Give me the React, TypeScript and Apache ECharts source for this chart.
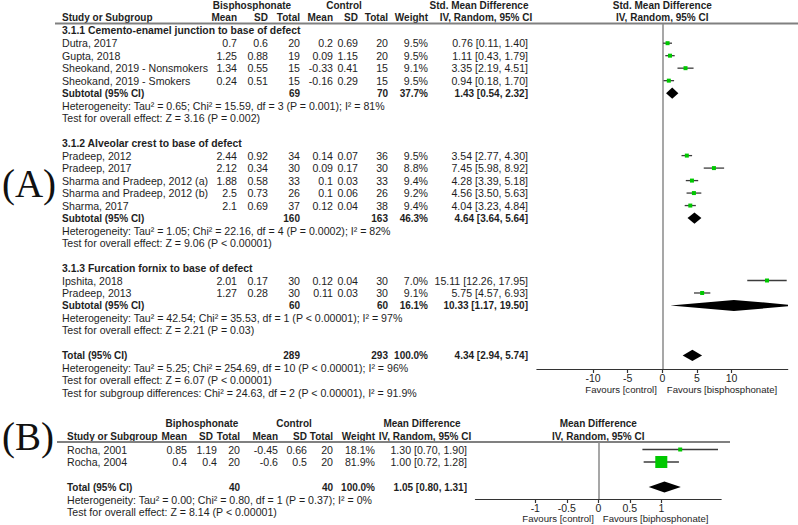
import React, { useEffect, useRef } from "react";
import * as echarts from "echarts";

// ---------------- Panel A data ----------------
const subgroupTitlesA = [
  "3.1.1 Cemento-enamel junction to base of defect",
  "3.1.2 Alveolar crest to base of defect",
  "3.1.3 Furcation fornix to base of defect",
];
const studyNamesA = [
  "Dutra, 2017",
  "Gupta, 2018",
  "Sheokand, 2019 - Nonsmokers",
  "Sheokand, 2019 - Smokers",
  "Pradeep, 2012",
  "Pradeep, 2017",
  "Sharma and Pradeep, 2012 (a)",
  "Sharma and Pradeep, 2012 (b)",
  "Sharma, 2017",
  "Ipshita, 2018",
  "Pradeep, 2013",
];
const studyGroupA = [0, 0, 0, 0, 1, 1, 1, 1, 1, 2, 2];
const expMeanA = [0.7, 1.25, 1.34, 0.24, 2.44, 2.12, 1.88, 2.5, 2.1, 2.01, 1.27];
const expSdA = [0.6, 0.88, 0.55, 0.51, 0.92, 0.34, 0.58, 0.73, 0.69, 0.17, 0.28];
const expTotalA = [20, 19, 15, 15, 34, 30, 33, 26, 37, 30, 30];
const ctrlMeanA = [0.2, 0.09, -0.33, -0.16, 0.14, 0.09, 0.1, 0.1, 0.12, 0.12, 0.11];
const ctrlSdA = [0.69, 1.15, 0.41, 0.29, 0.07, 0.17, 0.03, 0.06, 0.04, 0.04, 0.03];
const ctrlTotalA = [20, 20, 15, 15, 36, 30, 33, 26, 38, 30, 30];
const weightA = [9.5, 9.5, 9.1, 9.5, 9.5, 8.8, 9.4, 9.2, 9.4, 7.0, 9.1];
const estA = [0.76, 1.11, 3.35, 0.94, 3.54, 7.45, 4.28, 4.56, 4.04, 15.11, 5.75];
const loA = [0.11, 0.43, 2.19, 0.18, 2.77, 5.98, 3.39, 3.5, 3.23, 12.26, 4.57];
const hiA = [1.4, 1.79, 4.51, 1.7, 4.3, 8.92, 5.18, 5.63, 4.84, 17.95, 6.93];

const subExpTotalA = [69, 160, 60];
const subCtrlTotalA = [70, 163, 60];
const subWeightA = [37.7, 46.3, 16.1];
const subEstA = [1.43, 4.64, 10.33];
const subLoA = [0.54, 3.64, 1.17];
const subHiA = [2.32, 5.64, 19.5];
const subHetA = [
  "Heterogeneity: Tau\u00b2 = 0.65; Chi\u00b2 = 15.59, df = 3 (P = 0.001); I\u00b2 = 81%",
  "Heterogeneity: Tau\u00b2 = 1.05; Chi\u00b2 = 22.16, df = 4 (P = 0.0002); I\u00b2 = 82%",
  "Heterogeneity: Tau\u00b2 = 42.54; Chi\u00b2 = 35.53, df = 1 (P < 0.00001); I\u00b2 = 97%",
];
const subTestA = [
  "Test for overall effect: Z = 3.16 (P = 0.002)",
  "Test for overall effect: Z = 9.06 (P < 0.00001)",
  "Test for overall effect: Z = 2.21 (P = 0.03)",
];
const totalA = { exp: 289, ctrl: 293, weight: 100.0, est: 4.34, lo: 2.94, hi: 5.74 };
const totalTextA = [
  "Heterogeneity: Tau\u00b2 = 5.25; Chi\u00b2 = 254.69, df = 10 (P < 0.00001); I\u00b2 = 96%",
  "Test for overall effect: Z = 6.07 (P < 0.00001)",
  "Test for subgroup differences: Chi\u00b2 = 24.63, df = 2 (P < 0.00001), I\u00b2 = 91.9%",
];
const ticksA = [-10, -5, 0, 5, 10];

// ---------------- Panel B data ----------------
const studyNamesB = ["Rocha, 2001", "Rocha, 2004"];
const expMeanB = [0.85, 0.4];
const expSdB = [1.19, 0.4];
const expTotalB = [20, 20];
const ctrlMeanB = [-0.45, -0.6];
const ctrlSdB = [0.66, 0.5];
const ctrlTotalB = [20, 20];
const weightB = [18.1, 81.9];
const estB = [1.3, 1.0];
const loB = [0.7, 0.72];
const hiB = [1.9, 1.28];
const totalB = { exp: 40, ctrl: 40, weight: 100.0, est: 1.05, lo: 0.8, hi: 1.31 };
const totalTextB = [
  "Heterogeneity: Tau\u00b2 = 0.00; Chi\u00b2 = 0.80, df = 1 (P = 0.37); I\u00b2 = 0%",
  "Test for overall effect: Z = 8.14 (P < 0.00001)",
];
const ticksB = [-1, -0.5, 0, 0.5, 1];

// ---------------- layout ----------------
const FONT = '"Liberation Sans", Arial, Helvetica, sans-serif';
const SERIF = '"Liberation Serif", "Times New Roman", serif';
const FS = 10.6;
const FSB = 10.0;
const TXT = "#1e1e1e";

const A = {
  nameX: 62,
  cols: [237, 268, 300, 333, 358, 388, 428, 528],
  heads: [237, 268, 300, 333, 358, 388, 428],
  row0: 30.7,
  rowH: 12.49,
  top: 24,
  axisY: 369,
  zeroX: 662.3,
  xMin: -18.1,
  xMax: 18.1,
  pxPerUnit: 6.93,
};
const B = {
  nameX: 67,
  cols: [187, 217, 240, 278, 307, 333, 375, 467],
  heads: [187, 213, 240, 278, 307, 333, 375],
  row0: 449.5,
  rowH: 12.5,
  top: 442,
  axisY: 499,
  zeroX: 598.3,
  xMin: -1.95,
  xMax: 1.95,
  pxPerUnit: 63,
};

function txt(
  text: string,
  x: number,
  y: number,
  align = "left",
  bold = false,
  size?: number,
  fill = TXT,
  family = FONT
) {
  return {
    type: "text",
    x,
    y,
    silent: true,
    style: {
      text,
      fill,
      fontSize: size ?? (bold ? FSB : FS),
      fontFamily: family,
      fontWeight: bold ? "bold" : "normal",
      align,
      textAlign: align,
      verticalAlign: "middle",
      textVerticalAlign: "middle",
    },
  };
}

const fmt2 = (v: number) => v.toFixed(2);
const ci = (e: number, l: number, h: number) => `${fmt2(e)} [${fmt2(l)}, ${fmt2(h)}]`;
const pct = (w: number) => `${w.toFixed(1)}%`;
const HEADS = ["Mean", "SD", "Total", "Mean", "SD", "Total", "Weight"];

function buildPanelA() {
  const g: any[] = [];
  const ciData: number[][] = [];
  const sqData: number[][] = [];
  const dmData: number[][] = [];
  const y = (r: number) => A.row0 + A.rowH * r;
  const c = A.cols;
  g.push(txt("Bisphosphonate", 252, 5.5, "center", true));
  g.push(txt("Control", 344, 5.5, "center", true));
  g.push(txt("Std. Mean Difference", 479, 5.5, "center", true));
  g.push(txt("Std. Mean Difference", A.zeroX, 5.5, "center", true));
  g.push(txt("Study or Subgroup", A.nameX, 17.5, "left", true));
  HEADS.forEach((h, i) => g.push(txt(h, A.heads[i], 17.5, "right", true)));
  g.push(txt("IV, Random, 95% CI", 486, 17.5, "center", true));
  g.push(txt("IV, Random, 95% CI", A.zeroX, 17.5, "center", true));
  g.push({
    type: "line",
    silent: true,
    shape: { x1: 55, y1: 23.5, x2: 798, y2: 23.5 },
    style: { stroke: "#808080", lineWidth: 2 },
  });

  let r = 0;
  subgroupTitlesA.forEach((title, gi) => {
    g.push(txt(title, A.nameX, y(r), "left", true, 10.4));
    r++;
    studyNamesA.forEach((name, si) => {
      if (studyGroupA[si] !== gi) return;
      const yy = y(r);
      g.push(txt(name, A.nameX, yy));
      const vals = [expMeanA[si], expSdA[si], expTotalA[si], ctrlMeanA[si], ctrlSdA[si], ctrlTotalA[si]];
      vals.forEach((v, k) => g.push(txt(String(v), c[k], yy, "right")));
      g.push(txt(pct(weightA[si]), c[6], yy, "right"));
      g.push(txt(ci(estA[si], loA[si], hiA[si]), c[7], yy, "right"));
      ciData.push([loA[si], hiA[si], r]);
      sqData.push([estA[si], r, weightA[si]]);
      r++;
    });
    const ys = y(r);
    g.push(txt("Subtotal (95% CI)", A.nameX, ys, "left", true));
    g.push(txt(String(subExpTotalA[gi]), c[2], ys, "right", true));
    g.push(txt(String(subCtrlTotalA[gi]), c[5], ys, "right", true));
    g.push(txt(pct(subWeightA[gi]), c[6], ys, "right", true));
    g.push(txt(ci(subEstA[gi], subLoA[gi], subHiA[gi]), c[7], ys, "right", true));
    dmData.push([subLoA[gi], subEstA[gi], subHiA[gi], r]);
    r++;
    g.push(txt(subHetA[gi], A.nameX, y(r)));
    r++;
    g.push(txt(subTestA[gi], A.nameX, y(r)));
    r++;
    r++;
  });
  const yt = y(r);
  g.push(txt("Total (95% CI)", A.nameX, yt, "left", true));
  g.push(txt(String(totalA.exp), c[2], yt, "right", true));
  g.push(txt(String(totalA.ctrl), c[5], yt, "right", true));
  g.push(txt(pct(totalA.weight), c[6], yt, "right", true));
  g.push(txt(ci(totalA.est, totalA.lo, totalA.hi), c[7], yt, "right", true));
  dmData.push([totalA.lo, totalA.est, totalA.hi, r]);
  r++;
  totalTextA.forEach((t) => {
    g.push(txt(t, A.nameX, y(r)));
    r++;
  });
  g.push(txt("Favours [control]", A.zeroX - 5.5, 389.5, "right", false, 9.6));
  g.push(txt("Favours [bisphosphonate]", A.zeroX + 4.5, 389.5, "left", false, 9.6));
  g.push(txt("(A)", 29, 183, "center", false, 39, "#111", SERIF));
  return { g, ciData, sqData, dmData };
}

function buildPanelB() {
  const g: any[] = [];
  const ciData: number[][] = [];
  const sqData: number[][] = [];
  const dmData: number[][] = [];
  const y = (r: number) => B.row0 + B.rowH * r;
  const c = B.cols;
  g.push(txt("Biphosphonate", 202, 423, "center", true));
  g.push(txt("Control", 294, 423, "center", true));
  g.push(txt("Mean Difference", 422, 423, "center", true));
  g.push(txt("Mean Difference", B.zeroX, 423, "center", true));
  g.push(txt("Study or Subgroup", B.nameX, 436, "left", true));
  HEADS.forEach((h, i) => g.push(txt(h, B.heads[i], 436, "right", true)));
  g.push(txt("IV, Random, 95% CI", 425, 436, "center", true));
  g.push(txt("IV, Random, 95% CI", B.zeroX, 436, "center", true));
  g.push({
    type: "line",
    silent: true,
    shape: { x1: 57, y1: 442, x2: 730, y2: 442 },
    style: { stroke: "#808080", lineWidth: 2 },
  });
  let r = 0;
  studyNamesB.forEach((name, si) => {
    const yy = y(r);
    g.push(txt(name, B.nameX, yy));
    const vals = [expMeanB[si], expSdB[si], expTotalB[si], ctrlMeanB[si], ctrlSdB[si], ctrlTotalB[si]];
    vals.forEach((v, k) => g.push(txt(String(v), c[k], yy, "right")));
    g.push(txt(pct(weightB[si]), c[6], yy, "right"));
    g.push(txt(ci(estB[si], loB[si], hiB[si]), c[7], yy, "right"));
    ciData.push([loB[si], hiB[si], r]);
    sqData.push([estB[si], r, weightB[si]]);
    r++;
  });
  r++;
  const yt = y(r);
  g.push(txt("Total (95% CI)", B.nameX, yt, "left", true));
  g.push(txt(String(totalB.exp), c[2], yt, "right", true));
  g.push(txt(String(totalB.ctrl), c[5], yt, "right", true));
  g.push(txt(pct(totalB.weight), c[6], yt, "right", true));
  g.push(txt(ci(totalB.est, totalB.lo, totalB.hi), c[7], yt, "right", true));
  dmData.push([totalB.lo, totalB.est, totalB.hi, r]);
  r++;
  totalTextB.forEach((t) => {
    g.push(txt(t, B.nameX, y(r)));
    r++;
  });
  g.push(txt("Favours [control]", B.zeroX - 4.5, 518.3, "right", false, 9.6));
  g.push(txt("Favours [biphosphonate]", B.zeroX + 4.5, 518.3, "left", false, 9.6));
  g.push(txt("(B)", 28, 436, "center", false, 39, "#111", SERIF));
  return { g, ciData, sqData, dmData };
}

function ciSeries(data: number[][], idx: number) {
  return {
    type: "custom",
    xAxisIndex: idx,
    yAxisIndex: idx,
    clip: true,
    silent: true,
    data,
    encode: { x: [0, 1], y: 2 },
    renderItem: (_p: any, api: any) => {
      const a = api.coord([api.value(0), api.value(2)]);
      const b = api.coord([api.value(1), api.value(2)]);
      return {
        type: "line",
        shape: { x1: a[0], y1: a[1], x2: b[0], y2: b[1] },
        style: { stroke: "#3c3c3c", lineWidth: 1.3 },
      };
    },
    z: 3,
  };
}

function diamondSeries(data: number[][], idx: number) {
  return {
    type: "custom",
    xAxisIndex: idx,
    yAxisIndex: idx,
    clip: true,
    silent: true,
    data,
    encode: { x: [0, 1, 2], y: 3 },
    renderItem: (_p: any, api: any) => {
      const l = api.coord([api.value(0), api.value(3)]);
      const m = api.coord([api.value(1), api.value(3)]);
      const h = api.coord([api.value(2), api.value(3)]);
      const hh = 5.6;
      return {
        type: "polygon",
        shape: {
          points: [
            [l[0], l[1]],
            [m[0], m[1] - hh],
            [h[0], h[1]],
            [m[0], m[1] + hh],
          ],
        },
        style: { fill: "#000" },
      };
    },
    z: 4,
  };
}

function squareSeries(data: number[][], idx: number) {
  return {
    type: "scatter",
    xAxisIndex: idx,
    yAxisIndex: idx,
    silent: true,
    symbol: "rect",
    symbolSize: (v: number[]) => Math.max(4, v[2] * 0.147),
    itemStyle: { color: "#00c800", opacity: 1 },
    data,
    z: 5,
    markLine: {
      silent: true,
      symbol: "none",
      label: { show: false },
      lineStyle: { color: "#8a8a8a", width: 1.5, type: "solid" },
      data: [{ xAxis: 0 }],
      z: 1,
    },
  };
}

function xAxisCfg(idx: number, P: any, ticks: number[]) {
  return {
    gridIndex: idx,
    type: "value",
    min: P.xMin,
    max: P.xMax,
    axisLine: { show: true, onZero: false, lineStyle: { color: "#333", width: 1.2 } },
    axisTick: { show: true, customValues: ticks, length: 4, inside: false, lineStyle: { color: "#333", width: 1.2 } },
    axisLabel: { customValues: ticks, fontSize: 10.5, color: TXT, margin: 3, fontFamily: FONT },
    splitLine: { show: false },
  };
}

function yAxisCfg(idx: number, P: any) {
  return {
    gridIndex: idx,
    type: "value",
    inverse: true,
    min: (P.top - P.row0) / P.rowH,
    max: (P.axisY - P.row0) / P.rowH,
    show: false,
  };
}

function gridCfg(P: any) {
  const left = P.zeroX + P.xMin * P.pxPerUnit;
  const width = (P.xMax - P.xMin) * P.pxPerUnit;
  return { left, top: P.top, width, height: P.axisY - P.top, containLabel: false };
}

export default function App() {
  const ref = useRef<HTMLDivElement>(null);
  useEffect(() => {
    if (!ref.current) return;
    const chart = echarts.init(ref.current, undefined, { renderer: "svg" });
    const pa = buildPanelA();
    const pb = buildPanelB();
    chart.setOption({
      animation: false,
      backgroundColor: "#ffffff",
      textStyle: { fontFamily: FONT },
      grid: [gridCfg(A), gridCfg(B)],
      xAxis: [xAxisCfg(0, A, ticksA), xAxisCfg(1, B, ticksB)],
      yAxis: [yAxisCfg(0, A), yAxisCfg(1, B)],
      series: [
        ciSeries(pa.ciData, 0),
        diamondSeries(pa.dmData, 0),
        squareSeries(pa.sqData, 0),
        ciSeries(pb.ciData, 1),
        diamondSeries(pb.dmData, 1),
        squareSeries(pb.sqData, 1),
      ],
      graphic: { elements: [...pa.g, ...pb.g] },
    });
    return () => chart.dispose();
  }, []);
  return (
    <div
      ref={ref}
      style={{ position: "absolute", left: 0, top: 0, width: 798, height: 525, background: "#fff" }}
    />
  );
}
